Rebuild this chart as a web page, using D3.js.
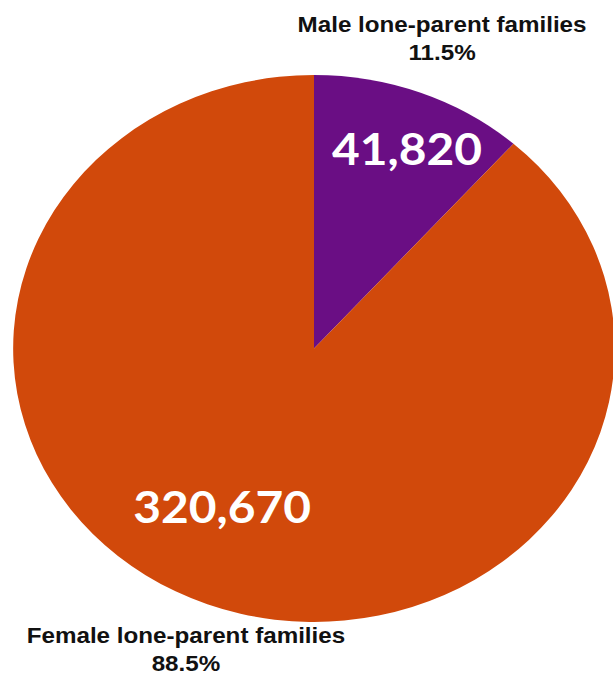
<!DOCTYPE html>
<html>
<head>
<meta charset="utf-8">
<script src="https://cdn.jsdelivr.net/npm/d3@7"></script>
<style>
  html, body { margin: 0; padding: 0; background: #fff; }
  svg { display: block; }
</style>
</head>
<body>
<svg id="chart" width="613" height="675"></svg>
<script>
// Lone-parent families by sex of parent
const categories = ["Male lone-parent families", "Female lone-parent families"];
const counts = [41820, 320670];
const shares = ["11.5%", "88.5%"];
const colors = ["#6a0e84", "#d1490b"];

const W = 613, H = 675;
const cx = 314, cy = 348.5;
const radius = 273.5;
const stretchX = 1.1;   // pie drawn as a slightly wide ellipse

const svg = d3.select("#chart");
const g = svg.append("g")
  .attr("transform", `translate(${cx},${cy}) scale(${stretchX},1)`);

const data = categories.map((c, i) => ({ name: c, value: counts[i], share: shares[i], color: colors[i] }));

const pie = d3.pie().sort(null).value(d => d.value);
const arc = d3.arc().innerRadius(0).outerRadius(radius);
const arcs = pie(data);

g.selectAll("path.slice")
  .data(arcs)
  .join("path")
  .attr("class", "slice")
  .attr("d", arc)
  .attr("fill", d => d.data.color);

// value labels inside the slices
const valuePos = [[84.5, -183.5], [-83.6, 174.5]];
g.selectAll("text.value")
  .data(arcs)
  .join("text")
  .attr("class", "value")
  .attr("x", (d, i) => valuePos[i][0])
  .attr("y", (d, i) => valuePos[i][1])
  .attr("text-anchor", "middle")
  .attr("fill", "#ffffff")
  .style("font-family", "Lato, 'Open Sans', sans-serif")
  .style("font-weight", 700)
  .style("font-size", "43.5px")
  .text(d => d3.format(",")(d.value));

// category labels outside the pie
const namePos = [[116.4, -316.5], [-116.4, 294.5]];
const nameG = g.selectAll("g.name")
  .data(arcs)
  .join("g")
  .attr("class", "name")
  .attr("transform", (d, i) => `translate(${namePos[i][0]},${namePos[i][1]})`);

nameG.append("text")
  .attr("text-anchor", "middle")
  .attr("fill", "#111")
  .style("font-family", "'Liberation Sans', Arial, sans-serif")
  .style("font-weight", 700)
  .style("font-size", "22px")
  .text(d => d.data.name);

nameG.append("text")
  .attr("y", 28)
  .attr("text-anchor", "middle")
  .attr("fill", "#111")
  .style("font-family", "'Liberation Sans', Arial, sans-serif")
  .style("font-weight", 700)
  .style("font-size", "22px")
  .text(d => d.data.share);
</script>
</body>
</html>
